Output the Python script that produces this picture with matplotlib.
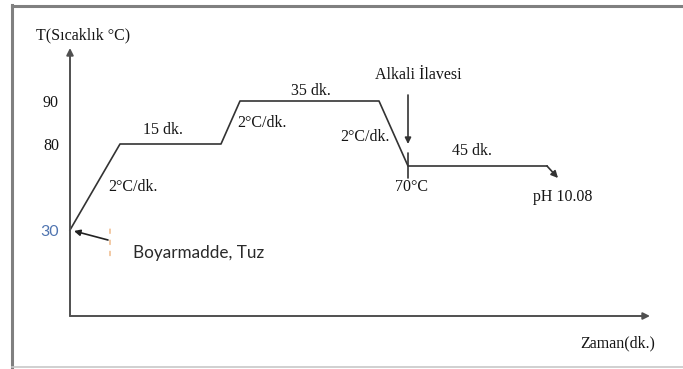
import numpy as np
import matplotlib
matplotlib.use("Agg")
import matplotlib.pyplot as plt

# process profile (time in minutes, temperature in C)
minutes = [0, 25, 40, 45, 80, 90, 135, 138]
temps = [30, 80, 80, 90, 90, 70, 70, 68]
ytick_vals = [30, 80, 90]
ytick_labels = ["30", "80", "90"]

step_labels = ["15 dk.", "35 dk.", "45 dk."]
rate_label = "2°C/dk."
add_label = "Alkali İlavesi"
start_label = "Boyarmadde, Tuz"
end_temp_label = "70°C"
end_ph_label = "pH 10.08"

W, H = 683, 369
SERIF = "Liberation Serif"
SANS = "Lato"
LINE = "#333333"
AX = "#505050"
TXT = "#151515"

# schematic (non-linear) scales of the sketch
t_anchor = [-1000, 0, 25, 40, 45, 80, 90, 135, 138, 165, 1165]
t_pos = [-1930, 70, 120, 221, 240, 379, 408, 547, 558, 650, 2650]
T_anchor = [-1000, 0, 30, 68, 70, 80, 90, 100, 1100]
T_pos = [-1947, 53, 139, 191, 203, 225, 268, 321, 2321]


def fx(v):
    return np.interp(v, t_anchor, t_pos)


def ix(v):
    return np.interp(v, t_pos, t_anchor)


def fy(v):
    return np.interp(v, T_anchor, T_pos)


def iy(v):
    return np.interp(v, T_pos, T_anchor)


def P(x, y):
    # image pixel (top-left origin) -> figure pixels
    return (x, H - y)


fig = plt.figure(figsize=(W / 100, H / 100), dpi=100)
ax = fig.add_axes([70 / W, 53 / H, 580 / W, 268 / H])
ax.set_xscale("function", functions=(fx, ix))
ax.set_yscale("function", functions=(fy, iy))
ax.set_xlim(0, 165)
ax.set_ylim(0, 100)
for s in ax.spines.values():
    s.set_visible(False)
ax.patch.set_alpha(0)

# axes with arrow heads
ax.annotate("", xy=(0, 1.0), xytext=(0, 0), xycoords="axes fraction",
            arrowprops=dict(arrowstyle="-|>", color=AX, lw=1.4,
                            mutation_scale=10, shrinkA=0, shrinkB=0))
ax.annotate("", xy=(1.0, 0), xytext=(0, 0), xycoords="axes fraction",
            arrowprops=dict(arrowstyle="-|>", color=AX, lw=1.4,
                            mutation_scale=10, shrinkA=0, shrinkB=0))

# profile
ax.plot(minutes[:-1], temps[:-1], color=LINE, lw=1.2, clip_on=False)
ax.annotate("", xy=(minutes[-1], temps[-1]), xytext=(minutes[-2], temps[-2]),
            arrowprops=dict(arrowstyle="-|>", color=LINE, lw=1.2,
                            mutation_scale=10, shrinkA=0, shrinkB=0))

ax.set_xticks([])
ax.set_yticks(ytick_vals)
ax.set_yticklabels(ytick_labels)
ax.tick_params(axis="y", length=0, pad=8)
for lab in ax.get_yticklabels():
    if lab.get_text() == "30":
        lab.set_fontfamily(SANS)
        lab.set_color("#4f74b0")
        lab.set_fontsize(11.5)
    else:
        lab.set_fontfamily(SERIF)
        lab.set_color(TXT)
        lab.set_fontsize(11.5)

# frame around the picture
fig.add_artist(plt.Line2D([12 / W, 1.01], [1 - 5.5 / H] * 2, color="#808080", lw=2.2))
fig.add_artist(plt.Line2D([12 / W] * 2, [1 - 5 / H, 1 - 367 / H], color="#808080", lw=2.2))
fig.add_artist(plt.Line2D([12 / W, 1.01], [1 - 367 / H] * 2, color="#c8c8c8", lw=1.2))


def label(s, x, y, family=SERIF, size=11.5, ha="left", color=TXT):
    ax.annotate(s, xy=P(x, y), xycoords="figure pixels", ha=ha, va="center",
                fontsize=size, family=family, color=color)


label("T(Sıcaklık °C)", 36, 35)
label(step_labels[0], 143, 130)
label(rate_label, 108, 187)
label(rate_label, 237, 123)
label(step_labels[1], 291, 91)
label(rate_label, 340, 137)
label(add_label, 375, 75)
label(step_labels[2], 452, 151)
label(end_temp_label, 395, 187)
label(end_ph_label, 533, 197)
label("Zaman(dk.)", 580, 343)
label(start_label, 133, 253, family=SANS, size=12.3, color="#2a2a2a")

# alkali addition arrow and marker
ax.annotate("", xy=P(408, 144), xytext=P(408, 95), xycoords="figure pixels",
            textcoords="figure pixels",
            arrowprops=dict(arrowstyle="-|>", color=LINE, lw=1.2,
                            mutation_scale=9, shrinkA=0, shrinkB=0))
ax.annotate("", xy=P(408, 178), xytext=P(408, 153), xycoords="figure pixels",
            textcoords="figure pixels",
            arrowprops=dict(arrowstyle="-", color=LINE, lw=1.2, shrinkA=0, shrinkB=0))

# dye/salt addition pointer
ax.annotate("", xy=P(74, 231), xytext=P(108, 240), xycoords="figure pixels",
            textcoords="figure pixels",
            arrowprops=dict(arrowstyle="-|>", color="#222222", lw=1.2,
                            mutation_scale=9, shrinkA=0, shrinkB=0))
ax.annotate("", xy=P(110, 262), xytext=P(110, 229), xycoords="figure pixels",
            textcoords="figure pixels",
            arrowprops=dict(arrowstyle="-", color="#e8a060", lw=0.8,
                            linestyle=(0, (4, 6)), shrinkA=0, shrinkB=0))

fig.savefig("out.png", dpi=100)
